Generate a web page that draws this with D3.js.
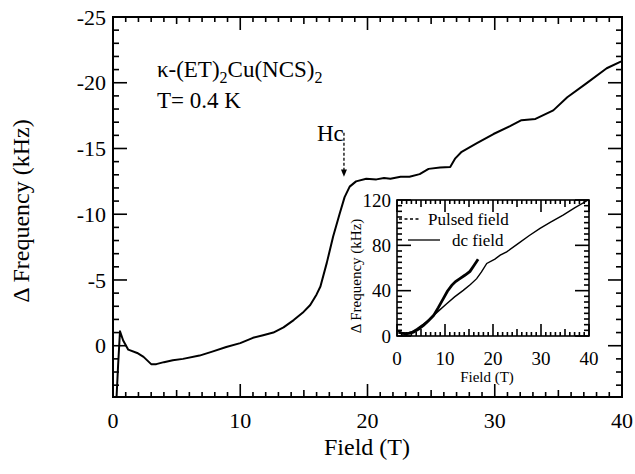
<!DOCTYPE html>
<html>
<head>
<meta charset="utf-8">
<script src="https://d3js.org/d3.v7.min.js"></script>
<style>
html, body { margin: 0; background: #fff; }
text { font-family: "Liberation Serif", "Times New Roman", serif; }
.frame { fill: none; stroke: #000; stroke-width: 2; }
.tick-line { stroke: #000; stroke-width: 1.6; }
</style>
</head>
<body>
<script>
// main curve: frequency shift vs field
var mainField = [0.25, 0.4, 0.55, 0.8, 1.2, 1.9, 2.4, 3.0, 3.4, 4.0, 4.7, 5.5, 6.8, 7.8, 8.9, 10.0, 11.0, 11.8, 12.6, 13.4, 14.2, 14.9, 15.5, 16.0, 16.3, 16.8, 17.3, 17.8, 18.2, 18.6, 19.1, 19.9, 20.7, 21.3, 21.8, 22.6, 23.3, 24.1, 24.8, 25.7, 26.5, 26.9, 27.4, 28.6, 29.9, 31.2, 32.1, 33.2, 34.6, 35.7, 37.2, 38.8, 39.9, 40];
var mainFreq = [4.5, 1.5, -1.1, -0.4, 0.3, 0.55, 0.85, 1.4, 1.4, 1.25, 1.1, 1.0, 0.75, 0.45, 0.1, -0.2, -0.6, -0.8, -1.0, -1.4, -1.95, -2.5, -3.1, -3.9, -4.5, -6.3, -8.3, -10.0, -11.3, -12.1, -12.5, -12.7, -12.65, -12.75, -12.7, -12.85, -12.85, -13.05, -13.45, -13.55, -13.6, -14.25, -14.75, -15.4, -16.1, -16.7, -17.15, -17.25, -17.9, -18.9, -19.95, -21.1, -21.6, -21.65];

// inset: dc field and pulsed field
var dcField = [0, 1, 2, 3, 4.1, 5.5, 6.9, 8.5, 10.35, 12, 13.8, 15.3, 16.6, 17.6, 18.7, 20.4, 21.5, 22.85, 25.3, 27.5, 29.8, 32, 34.6, 37, 39.85];
var dcFreq = [4.5, 3, 2.5, 3.5, 6.4, 10.5, 15.2, 21.5, 28.5, 34.5, 40.3, 45.5, 50.6, 56.5, 64, 67.8, 71.3, 74.2, 81.7, 88.5, 95, 100.5, 106.7, 113, 120];
var pulsedField = [0.3, 1, 1.7, 2.5, 3.4, 4.5, 5.5, 6.5, 7.6, 8.6, 9.65, 10.5, 11.4, 12.2, 13.1, 14.2, 15.2, 16.0, 16.9];
var pulsedFreq = [3.4, 2.5, 2, 2.3, 3.4, 6, 9.3, 13.3, 18, 25, 33, 39.5, 44.7, 48, 50.6, 53.8, 57, 62, 67.8];

var xTicks = [0, 10, 20, 30, 40];
var yTicks = [-25, -20, -15, -10, -5, 0];
var insetYTicks = [0, 40, 80, 120];

var W = 635, H = 474;
var svg = d3.select("body").append("svg").attr("width", W).attr("height", H)
  .attr("font-family", "'Liberation Serif', 'Times New Roman', serif");

// main scales
var x = d3.scaleLinear().domain([0, 40]).range([113, 622]);
var y = d3.scaleLinear().domain([3.9, -25]).range([397, 17]);

svg.append("clipPath").attr("id", "clipMain")
  .append("rect").attr("x", 113).attr("y", 17).attr("width", 509).attr("height", 380);

// ticks drawn inward on all four sides
function ticksX(sx, yPos, dir, values, len, sw) {
  values.forEach(function(v) {
    svg.append("line").attr("class", "tick-line").attr("stroke-width", sw)
      .attr("x1", sx(v)).attr("x2", sx(v))
      .attr("y1", yPos).attr("y2", yPos + dir * len);
  });
}
function ticksY(sy, xPos, dir, values, len, sw) {
  values.forEach(function(v) {
    svg.append("line").attr("class", "tick-line").attr("stroke-width", sw)
      .attr("y1", sy(v)).attr("y2", sy(v))
      .attr("x1", xPos).attr("x2", xPos + dir * len);
  });
}

var minorX = d3.range(0, 41, 1).filter(function(d) { return d % 5 != 0; });
var midX = d3.range(5, 40, 10);
var minorY = d3.range(-25, 4, 1).filter(function(d) { return d % 5 != 0; });

ticksX(x, 397, -1, minorX, 5, 1.6);
ticksX(x, 397, -1, midX, 7, 1.6);
ticksX(x, 397, -1, xTicks, 13, 1.6);
ticksX(x, 17, 1, minorX, 5, 1.6);
ticksX(x, 17, 1, midX, 7, 1.6);
ticksX(x, 17, 1, xTicks, 13, 1.6);
ticksY(y, 113, 1, minorY, 6, 1.6);
ticksY(y, 113, 1, yTicks, 14, 1.6);
ticksY(y, 622, -1, minorY, 6, 1.6);
ticksY(y, 622, -1, yTicks, 14, 1.6);

svg.append("rect").attr("class", "frame")
  .attr("x", 113).attr("y", 17).attr("width", 509).attr("height", 380);

// tick labels
svg.selectAll(".xl").data(xTicks).enter().append("text")
  .attr("x", function(d) { return x(d); }).attr("y", 428)
  .attr("text-anchor", "middle").attr("font-size", 22).text(function(d) { return d; });
svg.selectAll(".yl").data(yTicks).enter().append("text")
  .attr("x", 106).attr("y", function(d) { return y(d); }).attr("dy", "0.35em")
  .attr("text-anchor", "end").attr("font-size", 22).text(function(d) { return String(d); });

// axis titles
svg.append("text").attr("x", 367).attr("y", 455).attr("text-anchor", "middle")
  .attr("font-size", 24).text("Field (T)");
svg.append("text").attr("transform", "translate(29,211) rotate(-90)")
  .attr("text-anchor", "middle").attr("font-size", 24).text("Δ Frequency (kHz)");

// main curve
var mainData = mainField.map(function(f, i) { return [f, mainFreq[i]]; });
svg.append("path").datum(mainData)
  .attr("clip-path", "url(#clipMain)")
  .attr("fill", "none").attr("stroke", "#000").attr("stroke-width", 2)
  .attr("stroke-linejoin", "round")
  .attr("d", d3.line().x(function(d) { return x(d[0]); }).y(function(d) { return y(d[1]); }));

// annotations
var t1 = svg.append("text").attr("x", x(3.45)).attr("y", y(-20.4)).attr("font-size", 23);
t1.append("tspan").text("κ-(ET)");
t1.append("tspan").attr("font-size", 16).attr("dy", 6).text("2");
t1.append("tspan").attr("dy", -6).text("Cu(NCS)");
t1.append("tspan").attr("font-size", 16).attr("dy", 6).text("2");
svg.append("text").attr("x", x(3.45)).attr("y", y(-18.1)).attr("font-size", 23).text("T= 0.4 K");

svg.append("text").attr("x", 317).attr("y", 141).attr("font-size", 23).text("Hc");
svg.append("line").attr("x1", x(18.15)).attr("x2", x(18.15))
  .attr("y1", y(-16.2)).attr("y2", y(-13.35))
  .attr("stroke", "#000").attr("stroke-width", 1.3).attr("stroke-dasharray", "3,2");
svg.append("path")
  .attr("d", "M" + (x(18.15) - 3) + "," + y(-13.4) + "L" + (x(18.15) + 3) + "," + y(-13.4) + "L" + x(18.15) + "," + y(-12.85) + "Z")
  .attr("fill", "#000");

// inset
var xi = d3.scaleLinear().domain([0, 40]).range([397, 589]);
var yi = d3.scaleLinear().domain([0, 120]).range([336, 200]);

svg.append("rect").attr("x", 397).attr("y", 200).attr("width", 192).attr("height", 136).attr("fill", "#fff");

var minorXi = d3.range(0, 41, 1).filter(function(d) { return d % 5 != 0; });
var midXi = d3.range(5, 40, 10);
var minorYi = d3.range(0, 121, 5).filter(function(d) { return d % 40 != 0; });

ticksX(xi, 336, -1, minorXi, 4, 1.1);
ticksX(xi, 336, -1, midXi, 7, 1.1);
ticksX(xi, 336, -1, xTicks, 12, 1.2);
ticksX(xi, 200, 1, minorXi, 4, 1.1);
ticksX(xi, 200, 1, midXi, 7, 1.1);
ticksX(xi, 200, 1, xTicks, 12, 1.2);
ticksY(yi, 397, 1, minorYi, 5, 1.1);
ticksY(yi, 397, 1, insetYTicks, 14, 1.2);
ticksY(yi, 589, -1, minorYi, 5, 1.1);
ticksY(yi, 589, -1, insetYTicks, 14, 1.2);

svg.append("rect").attr("x", 397).attr("y", 200).attr("width", 192).attr("height", 136)
  .attr("fill", "none").attr("stroke", "#000").attr("stroke-width", 1.6);

svg.selectAll(".xil").data(xTicks).enter().append("text")
  .attr("x", function(d) { return xi(d); }).attr("y", 365)
  .attr("text-anchor", "middle").attr("font-size", 19).text(function(d) { return d; });
svg.selectAll(".yil").data(insetYTicks).enter().append("text")
  .attr("x", 391).attr("y", function(d) { return yi(d); }).attr("dy", "0.35em")
  .attr("text-anchor", "end").attr("font-size", 19).text(function(d) { return d; });
svg.append("text").attr("x", 487).attr("y", 382).attr("text-anchor", "middle")
  .attr("font-size", 15).text("Field (T)");
svg.append("text").attr("transform", "translate(361,276) rotate(-90)")
  .attr("text-anchor", "middle").attr("font-size", 15).text("Δ Frequency (kHz)");

var lineI = d3.line().x(function(d) { return xi(d[0]); }).y(function(d) { return yi(d[1]); });
svg.append("path").datum(dcField.map(function(f, i) { return [f, dcFreq[i]]; }))
  .attr("fill", "none").attr("stroke", "#000").attr("stroke-width", 1.4).attr("d", lineI);
svg.append("path").datum(pulsedField.map(function(f, i) { return [f, pulsedFreq[i]]; }))
  .attr("fill", "none").attr("stroke", "#000").attr("stroke-width", 2.8).attr("d", lineI);

// legend
svg.append("line").attr("x1", 399).attr("x2", 421).attr("y1", 219).attr("y2", 219)
  .attr("stroke", "#000").attr("stroke-width", 1.3).attr("stroke-dasharray", "3,2.5");
svg.append("text").attr("x", 428).attr("y", 219).attr("dy", "0.35em").attr("font-size", 17).text("Pulsed field");
svg.append("line").attr("x1", 408).attr("x2", 440).attr("y1", 240).attr("y2", 240)
  .attr("stroke", "#000").attr("stroke-width", 1.3);
svg.append("text").attr("x", 452).attr("y", 240).attr("dy", "0.35em").attr("font-size", 17).text("dc field");
</script>
</body>
</html>
